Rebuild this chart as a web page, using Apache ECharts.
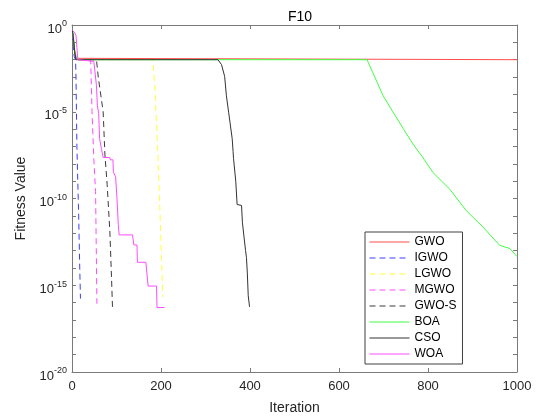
<!DOCTYPE html>
<html><head><meta charset="utf-8">
<script src="https://cdn.jsdelivr.net/npm/echarts@6/dist/echarts.min.js"></script>
<style>html,body{margin:0;padding:0;background:#fff}#c{width:538px;height:420px}</style>
</head><body><div id="c"></div>
<script>
const titleText = 'F10';
const seriesNames = ['GWO','IGWO','LGWO','MGWO','GWO-S','BOA','CSO','WOA'];
const xTicks = [0,200,400,600,800,1000];
const yTickExponents = [0,-5,-10,-15,-20];

// [iteration, fitness]
const GWO = [[1,0.45],[3,0.15],[5,0.04],[8,0.012],[12,0.01],[1000,0.01]];
const IGWO = [[1,0.3],[3,0.07],[5,0.015],[8,0.01],[9,1e-3],[10,1e-5],[11,1e-7],[13,1e-9],[15,1e-11],[17,3e-14],[19,1.7e-16]];
const LGWO = [[1,0.4],[4,0.1],[7,0.02],[10,0.01],[182,0.01],[187,1e-4],[193,3.2e-8],[198,1e-11],[204,2.1e-16]];
const MGWO = [[1,0.35],[4,0.08],[7,0.02],[10,0.01],[42,0.01],[45,1e-5],[49,2e-8],[53,2.5e-10],[56,8.5e-17]];
const GWOS = [[1,0.4],[4,0.1],[7,0.02],[10,0.01],[55,0.01],[59,1e-3],[70,1e-5],[74,3.2e-8],[79,6.3e-10],[85,1.4e-12],[89,2e-15],[91,5.2e-17]];
const BOA = [[1,0.45],[3,0.2],[6,0.04],[10,0.012],[15,0.01],[663,0.01],[676,1.8e-3],[699,8.5e-5],[721,1e-5],[744,1.1e-6],[766,1.4e-7],[787,2.6e-8],[811,3.2e-9],[849,3.4e-10],[886,2e-11],[924,2.2e-12],[961,2e-13],[984,1.3e-13],[1000,4.5e-14]];
const CSO = [[1,0.5],[3,0.2],[6,0.03],[9,0.01],[328,0.01],[336,5.2e-3],[343,1.1e-3],[347,8.3e-5],[352,9.3e-6],[355,2.5e-6],[360,2.8e-7],[362,5e-8],[363,2e-8],[366,1.6e-8],[368,1e-9],[371,4.5e-11],[381,4e-11],[383,4e-12],[385,3.5e-12],[390,1e-13],[392,4e-14],[394,5e-15],[396,2.5e-16],[399,5.7e-17]];
const WOA = [[1,0.5],[3,0.45],[6,0.35],[9,0.25],[11,0.05],[13,0.01],[49,0.008],[55,3.2e-4],[57,2.2e-5],[60,8e-6],[62,2.8e-7],[66,7.6e-8],[70,2.3e-8],[85,2.3e-8],[86,1.7e-8],[92,1.7e-8],[93,3.2e-9],[96,3e-9],[98,1.8e-9],[101,1.1e-10],[104,3.2e-12],[106,8e-13],[136,8e-13],[139,2.1e-13],[146,2.1e-13],[147,2.1e-14],[166,2.1e-14],[171,9e-16],[190,9e-16],[191,5.2e-17],[208,5.2e-17]];

const seriesData = [GWO, IGWO, LGWO, MGWO, GWOS, BOA, CSO, WOA];
const seriesColors = ['#ff4d4d','#3d3dff','#ffff3a','#ff4dff','#3a3a3a','#40ff40','#333333','#ff4dff'];
const seriesDash = ['solid',[6,4],[6,4],[6,4],[6,4],'solid','solid','solid'];

const FONT = 'Liberation Sans, Arial, sans-serif';
const AX = '#7a7a7a';
const TXT = '#262626';

const chart = echarts.init(document.getElementById('c'), null, {renderer:'canvas'});

function yFmt(v){
  const e = Math.round(Math.log10(v));
  if (yTickExponents.indexOf(e) < 0) return '';
  return '{b|10}{s|' + e + '}';
}

const xCommon = {type:'value', min:xTicks[0], max:xTicks[xTicks.length-1], interval:xTicks[1]-xTicks[0],
  splitLine:{show:false}, axisLine:{show:true, onZero:false, lineStyle:{color:AX, width:1}},
  axisTick:{show:true, inside:true, length:4, lineStyle:{color:AX}}};
const yCommon = {type:'log', logBase:10, min:1e-20, max:1, interval:1,
  splitLine:{show:false}, axisLine:{show:true, onZero:false, lineStyle:{color:AX, width:1}},
  axisTick:{show:true, inside:true, length:4, interval:0, lineStyle:{color:AX}}};

const option = {
  animation:false,
  backgroundColor:'#fff',
  textStyle:{fontFamily:FONT},
  title:{text:titleText, left:295, top:5, textAlign:'center',
    textStyle:{fontSize:14, fontWeight:'normal', color:'#000', fontFamily:FONT}},
  grid:{left:72, right:21, top:25, bottom:44, containLabel:false},
  xAxis:[
    Object.assign({}, xCommon, {position:'bottom',
      axisLabel:{show:true, color:TXT, fontSize:13, margin:8, fontFamily:FONT, formatter:v=>String(v)},
      name:'Iteration', nameLocation:'middle', nameGap:29,
      nameTextStyle:{fontSize:14, color:TXT, fontFamily:FONT}}),
    Object.assign({}, xCommon, {position:'top', axisLabel:{show:false}})
  ],
  yAxis:[
    Object.assign({}, yCommon, {position:'left',
      axisLabel:{show:true, formatter:yFmt, margin:5, interval:0,
        rich:{b:{fontSize:13, color:TXT, fontFamily:FONT, padding:[8,0,0,0]},
              s:{fontSize:9, color:TXT, fontFamily:FONT, verticalAlign:'top', padding:[5,0,0,0]}}},
      name:'Fitness Value', nameLocation:'middle', nameGap:43,
      nameTextStyle:{fontSize:14, color:TXT, fontFamily:FONT}}),
    Object.assign({}, yCommon, {position:'right', axisLabel:{show:false}})
  ],
  legend:{orient:'vertical', left:365, top:232, itemWidth:40, itemHeight:14, itemGap:4,
    padding:[4,6,4,4], backgroundColor:'#fff', borderColor:'#404040', borderWidth:1, borderRadius:0,
    itemStyle:{opacity:0, borderWidth:0},
    lineStyle:{width:1},
    textStyle:{fontSize:12, color:'#000', fontFamily:FONT}, data:seriesNames},
  series: seriesNames.map((n,i)=>({
    name:n, type:'line', xAxisIndex:0, yAxisIndex:0, data:seriesData[i],
    symbol:'none', showSymbol:false, clip:true,
    lineStyle:{color:seriesColors[i], width:1, type:seriesDash[i]},
    itemStyle:{color:seriesColors[i]}
  }))
};
chart.setOption(option);
</script></body></html>
